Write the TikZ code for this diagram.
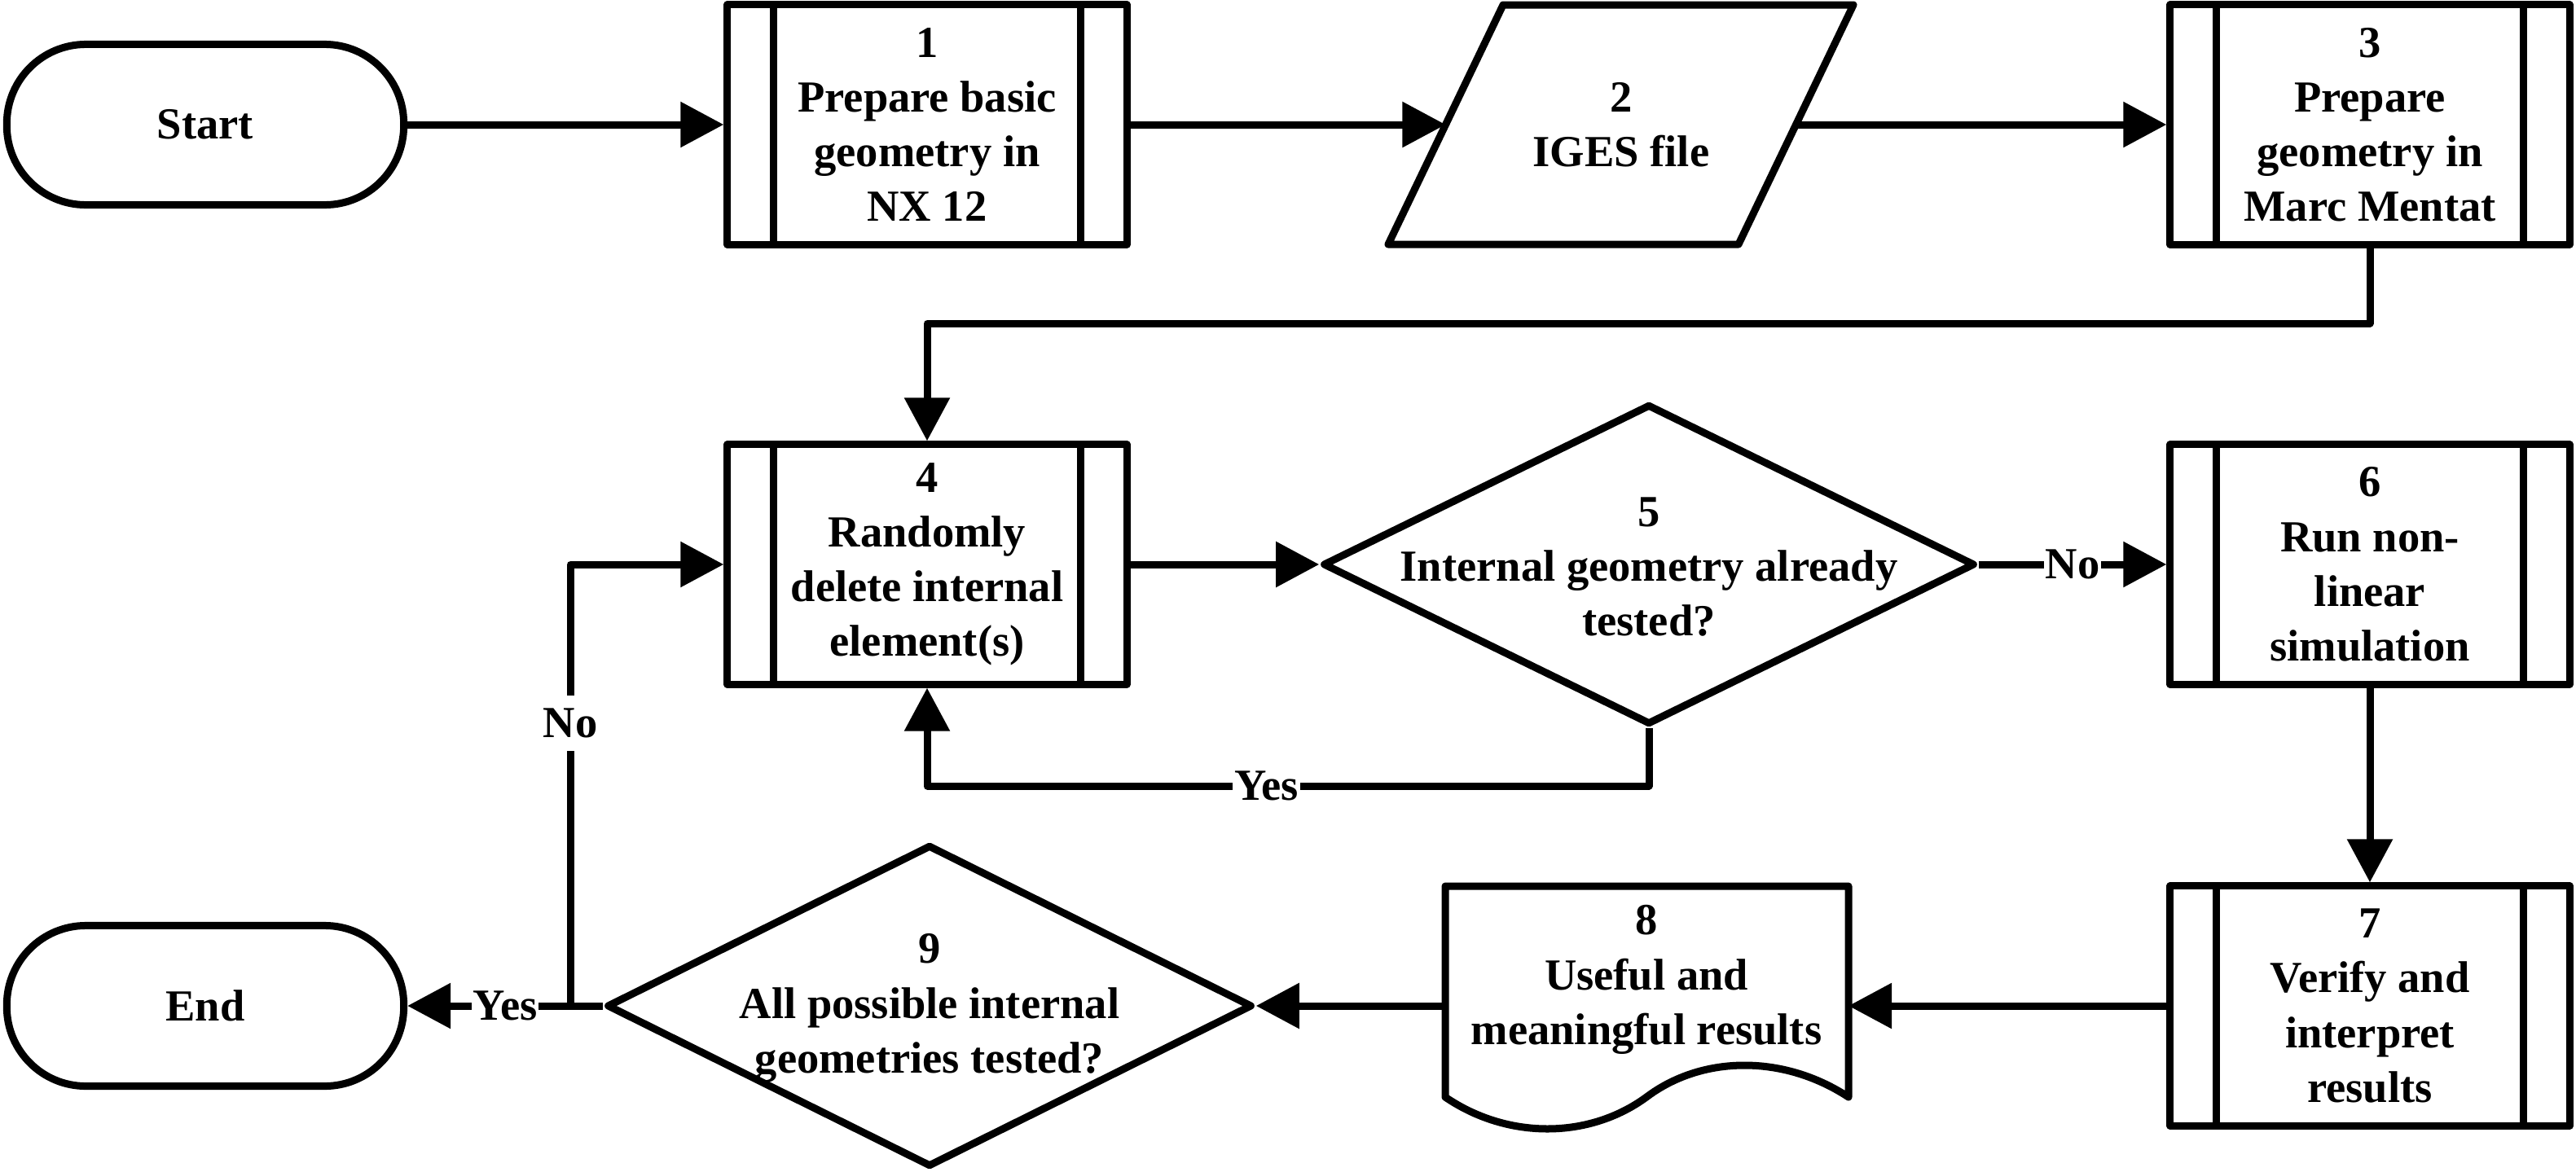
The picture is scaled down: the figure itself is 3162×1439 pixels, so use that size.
\documentclass[tikz,border=0pt]{standalone}
\usepackage{fontspec}
\setmainfont{Liberation Serif}
\usetikzlibrary{arrows.meta,shapes.geometric,calc}
\begin{document}
\begin{tikzpicture}[x=0.01cm,y=-0.01cm,
  ln/.style={line width=0.09cm, line join=round},
  arr/.style={ln, -{Triangle[length=0.53cm,width=0.54cm]}},
  txt/.style={font=\fontsize{15.5}{19.1}\selectfont\bfseries, align=center},
  proc/.style={ln, draw, txt, minimum width=4.9cm, minimum height=2.94cm, inner sep=0pt},
  term/.style={ln, draw, txt, rounded corners=0.97cm, minimum width=4.87cm, minimum height=1.97cm},
  dia/.style={ln, draw, diamond, inner sep=0pt},
  lbl/.style={txt, fill=white, inner xsep=0.02cm, inner ysep=0.05cm, text height=0.46cm, text depth=0.12cm}
]
\useasboundingbox (0,0) rectangle (3162,1439);

% nodes
\node[term] (start) at (252,153) {Start};
\node[proc] (b1) at (1138,153) {1\\Prepare basic\\geometry in\\NX 12};
\draw[ln] (1704,300) -- (1845,6) -- (2275,6) -- (2134,300) -- cycle;
\node[txt] (p2) at (1990,153) {2\\IGES file};
\coordinate (p2w) at (1774.5,153);
\coordinate (p2e) at (2204.5,153);
\node[proc] (b3) at (2909,153) {3\\Prepare\\geometry in\\Marc Mentat};

\node[proc] (b4) at (1138,693) {4\\Randomly\\delete internal\\element(s)};
\node[dia, minimum width=8cm, minimum height=3.93cm] (d5) at (2024,693) {};
\node[txt] (d5t) at (2024,696) {5\\Internal geometry already\\tested?};
\node[proc] (b6) at (2909,693) {6\\Run non-\\linear\\simulation};

\node[proc] (b7) at (2909,1235) {7\\Verify and\\interpret\\results};
\draw[ln] (1774,1347) -- (1774,1088) -- (2269,1088) -- (2269,1347)
  .. controls (2190,1295) and (2090,1295) .. (2021,1347)
  .. controls (1950,1399) and (1850,1399) .. (1774,1347) -- cycle;
\node[txt, anchor=north, inner sep=0pt] (d8) at (2021,1111) {8\\Useful and\\meaningful results};
\coordinate (d8e) at (2269,1235);
\coordinate (d8w) at (1774,1235);
\node[dia, minimum width=7.92cm, minimum height=3.95cm] (d9) at (1141,1235) {};
\node[txt] (d9t) at (1141,1238) {9\\All possible internal\\geometries tested?};
\node[term] (end) at (252,1235) {End};

% inner lines of process boxes
\foreach \n in {b1,b3,b4,b6,b7} {
  \draw[ln] ([xshift=0.61cm]\n.north west) -- ([xshift=0.61cm]\n.south west);
  \draw[ln] ([xshift=-0.61cm]\n.north east) -- ([xshift=-0.61cm]\n.south east);
}

% connectors
\draw[arr] (start.east) -- (b1.west);
\draw[arr] (b1.east) -- (p2w);
\draw[arr] (p2e) -- (b3.west);
\coordinate (k3) at (2909,397);
\draw[arr] (b3.south) -- (k3) -| (b4.north);
\draw[arr] (b4.east) -- (d5.west);
\draw[arr] (d5.east) -- node[lbl]{No} (b6.west);
\coordinate (k5) at (2024,965);
\draw[arr] (d5.south) -- (k5) -- node[lbl, pos=0.53]{Yes} (k5 -| b4.south) -- (b4.south);
\draw[arr] (b6.south) -- (b7.north);
\draw[arr] (b7.west) -- (d8e);
\draw[arr] (d8w) -- (d9.east);
\coordinate (j9) at (700,1235);
\draw[ln] (d9.west) -- (j9);
\draw[arr] (j9) -- node[lbl, pos=0.4]{Yes} (end.east);
\draw[arr] (j9) -- node[lbl, pos=0.64]{No} (j9 |- b4.west) -- (b4.west);
\end{tikzpicture}
\end{document}
